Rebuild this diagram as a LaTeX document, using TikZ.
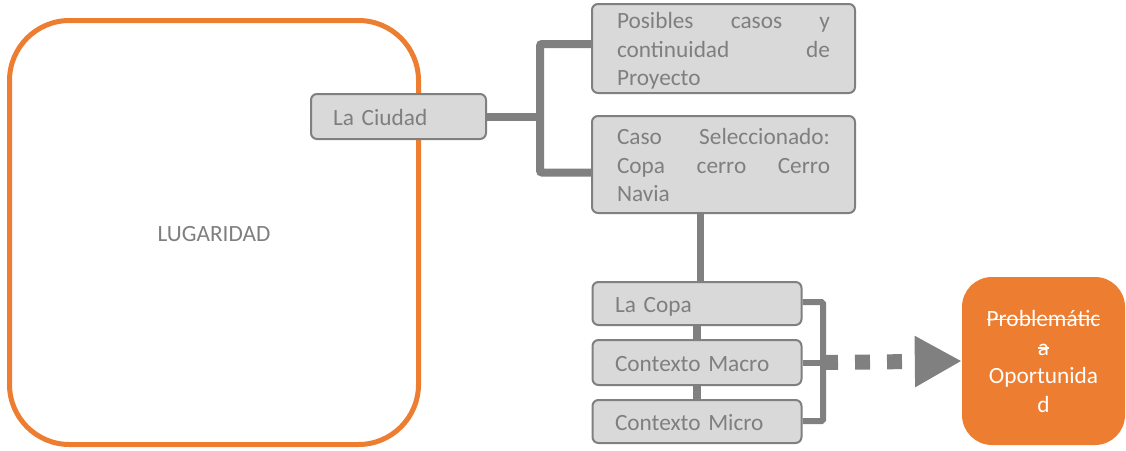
\documentclass[tikz,border=0pt]{standalone}
\usepackage{fontspec}
\setmainfont{Carlito}
\usetikzlibrary{arrows.meta}
\definecolor{orng}{HTML}{ED7D31}
\definecolor{gline}{HTML}{808080}
\definecolor{gfill}{HTML}{D9D9D9}
\definecolor{gtext}{HTML}{7F7F7F}
\newcommand\mystrike[1]{\leavevmode\setbox0\hbox{#1}\rlap{\rule[0.27em]{\wd0}{0.065em}}\box0}
\begin{document}
\begin{tikzpicture}[x=1pt,y=-1pt,
  every node/.style={font=\fontsize{23.3}{28.5}\selectfont, inner sep=0pt},
  graybox/.style={draw=gline, fill=gfill, line width=2pt, rounded corners=6pt, text=gtext, align=left, anchor=center},
  oneline/.style={text height=19pt, text depth=2pt},
  threeline/.style={text height=19pt, text depth=59pt},
  conn/.style={draw=gline, line width=8pt, rounded corners=2pt},
  midconn/.style={draw=gline, line width=7pt},
  thinconn/.style={draw=gline, line width=6pt, rounded corners=1.5pt},
  dotarrow/.style={draw=gline, line width=15pt, dash pattern=on 15pt off 17pt, -{Triangle[length=47pt,width=48pt]}}]
\useasboundingbox (0,0) rectangle (1126,450);
% big orange box
\node[draw=orng, line width=5pt, rounded corners=60pt, minimum width=409pt, minimum height=424pt, text=gtext, oneline] (lug) at (214,232.5) {LUGARIDAD};
% junction coordinates
\coordinate (jt) at (540,44);
\coordinate (jm) at (540,116.5);
\coordinate (jb) at (540,172.5);
\coordinate (rt) at (823,302);
\coordinate (rm) at (823,362.5);
\coordinate (rb) at (823,421);
% gray boxes
\node[graybox, oneline, minimum width=175pt, minimum height=45pt, text width=131pt] (ciudad) at (398.5,116.5) {La Ciudad};
\node[graybox, threeline, minimum width=263pt, minimum height=89pt, text width=213pt] (posibles) at (723.5,48.5) {Posibles\hfill casos\hfill y\\continuidad\hfill de\\Proyecto};
\node[graybox, threeline, minimum width=263pt, minimum height=97pt, text width=213pt] (caso) at (723.5,164.5) {Caso\hfill Seleccionado:\\Copa\hfill cerro\hfill Cerro\\Navia};
\node[graybox, oneline, minimum width=209pt, minimum height=43pt, text width=164pt] (copa) at (697,303.5) {La Copa};
\node[graybox, oneline, minimum width=209pt, minimum height=45pt, text width=164pt] (macro) at (697,362.5) {Contexto Macro};
\node[graybox, oneline, minimum width=209pt, minimum height=43pt, text width=164pt] (micro) at (697,421.5) {Contexto Micro};
% orange result box
\node[fill=orng, rounded corners=30pt, minimum width=163pt, minimum height=168pt, text=white, align=center, text width=150pt, text height=19pt, text depth=87.5pt] (prob) at (1043.5,361) {\mystrike{Problemátic}\\\mystrike{a}\\Oportunida\\d};
% connectors
\draw[conn] (ciudad.east) -- (jm);
\draw[conn] (posibles.west |- jt) -- (jt) -- (jb) -- (caso.west |- jb);
\draw[midconn] ([xshift=3pt]caso.south -| copa.north) -- ([xshift=3pt]copa.north);
\draw[conn] (copa.south) -- (macro.north);
\draw[conn] (macro.south) -- (micro.north);
\draw[thinconn] (copa.east |- rt) -- (rt) -- (rb) -- (micro.east |- rb);
\draw[thinconn] (macro.east) -- (rm);
\draw[dotarrow] (rm) -- (prob.west);
\end{tikzpicture}
\end{document}
